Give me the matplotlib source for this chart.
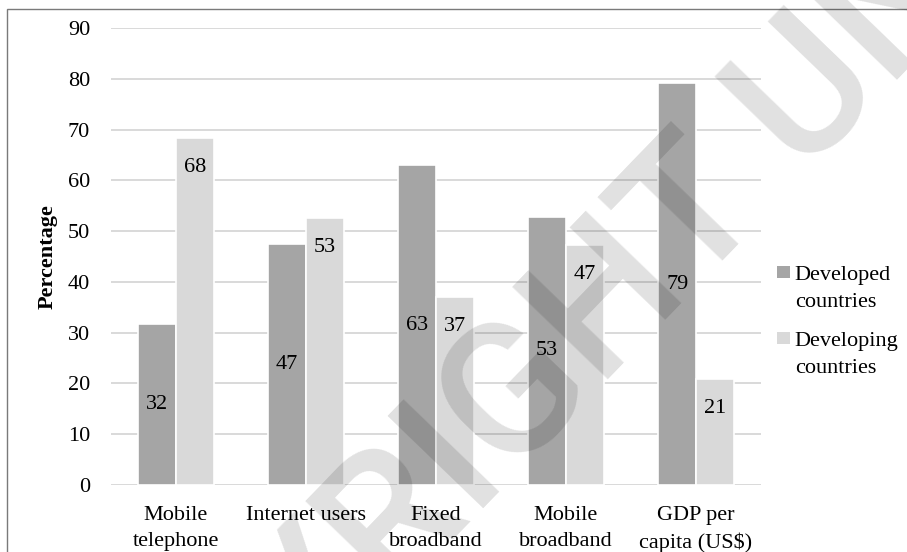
import matplotlib
matplotlib.use("Agg")
import matplotlib.pyplot as plt
from matplotlib.patches import Patch, Rectangle
from matplotlib.legend_handler import HandlerPatch
from matplotlib.font_manager import FontProperties
import numpy as np

categories = ["Mobile\ntelephone", "Internet users", "Fixed\nbroadband",
              "Mobile\nbroadband", "GDP per\ncapita (US$)"]
developed = [31.7, 47.4, 63.0, 52.8, 79.1]
developing = [68.3, 52.6, 37.0, 47.2, 20.9]
series_names = ["Developed\ncountries", "Developing\ncountries"]
yticks = [0, 10, 20, 30, 40, 50, 60, 70, 80, 90]
watermark = "COPYRIGHT UNIVERSITY"

W, H = 907, 552
plt.rcParams['font.family'] = ['Liberation Serif', 'DejaVu Serif']
fs = 16

fig = plt.figure(figsize=(W / 100, H / 100), dpi=100)
ax = fig.add_axes([111 / W, (H - 485) / H, 650 / W, (485 - 28) / H])

x = np.arange(len(categories))
bw = 0.29
c_dev = '#A5A5A5'
c_dvg = '#D9D9D9'
ax.bar(x - bw / 2, developed, bw, color=c_dev, edgecolor='white', linewidth=1.2, zorder=3)
ax.bar(x + bw / 2, developing, bw, color=c_dvg, edgecolor='white', linewidth=1.2, zorder=3)

for xi, v in zip(x, developed):
    ax.text(xi - bw / 2, v / 2, f"{round(v)}", ha='center', va='center',
            fontsize=fs, color='black', zorder=4)
for xi, v in zip(x, developing):
    ax.annotate(f"{round(v)}", (xi + bw / 2, v), xytext=(0, -21),
                textcoords='offset points', ha='center', va='center',
                fontsize=fs, color='black', zorder=4)

ax.set_xlim(-0.5, len(categories) - 0.5)
ax.set_ylim(0, 90)
ax.set_yticks(yticks)
ax.set_yticklabels([str(t) for t in yticks])
ax.set_xticks(x)
ax.set_xticklabels(categories, linespacing=1.5)
ax.tick_params(axis='y', length=0, pad=15, labelsize=fs, labelcolor='black')
ax.tick_params(axis='x', length=0, pad=15, labelsize=fs, labelcolor='black')
ax.grid(axis='y', color='#D9D9D9', linewidth=1.4)
ax.set_axisbelow(True)
for s in ax.spines.values():
    s.set_visible(False)

ax.set_ylabel("Percentage", fontsize=fs, fontweight='bold', va='center')
ax.yaxis.set_label_coords(-0.097, 0.5)


def square_patch(legend, orig_handle, xdescent, ydescent, width, height, fontsize):
    return Rectangle((-xdescent, -ydescent + 11.5), width, height)


handles = [Patch(facecolor=c_dev, edgecolor='none'), Patch(facecolor=c_dvg, edgecolor='none')]
leg = fig.legend(handles, series_names, loc='upper left',
                 bbox_to_anchor=(777 / W, (H - 266) / H), frameon=False,
                 fontsize=fs, handlelength=0.58, handleheight=0.45,
                 handletextpad=0.22, labelspacing=0.9, borderpad=0, borderaxespad=0,
                 handler_map={Patch: HandlerPatch(patch_func=square_patch)})
for t in leg.get_texts():
    t.set_linespacing(1.56)

# outer chart border
fig.add_artist(Rectangle((7 / W, -0.1), 1.2, (H - 9) / H + 0.1, transform=fig.transFigure,
                         fill=False, edgecolor='#7a7a7a', linewidth=1.0))

# watermark: place so that the "G" is centred where it sits in the reference
wm_fp = FontProperties(family=['Roboto', 'Liberation Sans'], weight=500, size=135)
renderer = fig.canvas.get_renderer()
w_pre, _, _ = renderer.get_text_width_height_descent(watermark[:6], wm_fp, ismath=False)
w_g, _, _ = renderer.get_text_width_height_descent(watermark[6], wm_fp, ismath=False)
_, h_cap, d_cap = renderer.get_text_width_height_descent("H", wm_fp, ismath=False)
ang = np.deg2rad(46)
u = np.array([np.cos(ang), np.sin(ang)])
n = np.array([-np.sin(ang), np.cos(ang)])
g_center = np.array([507, H - 388])
start = g_center - (w_pre + w_g / 2) * u - ((h_cap - d_cap) / 2) * n
fig.text(start[0] / W, start[1] / H, watermark, fontproperties=wm_fp,
         color='black', alpha=0.12, rotation=46, rotation_mode='anchor',
         ha='left', va='baseline', zorder=10)

fig.savefig("out.png", dpi=100)
